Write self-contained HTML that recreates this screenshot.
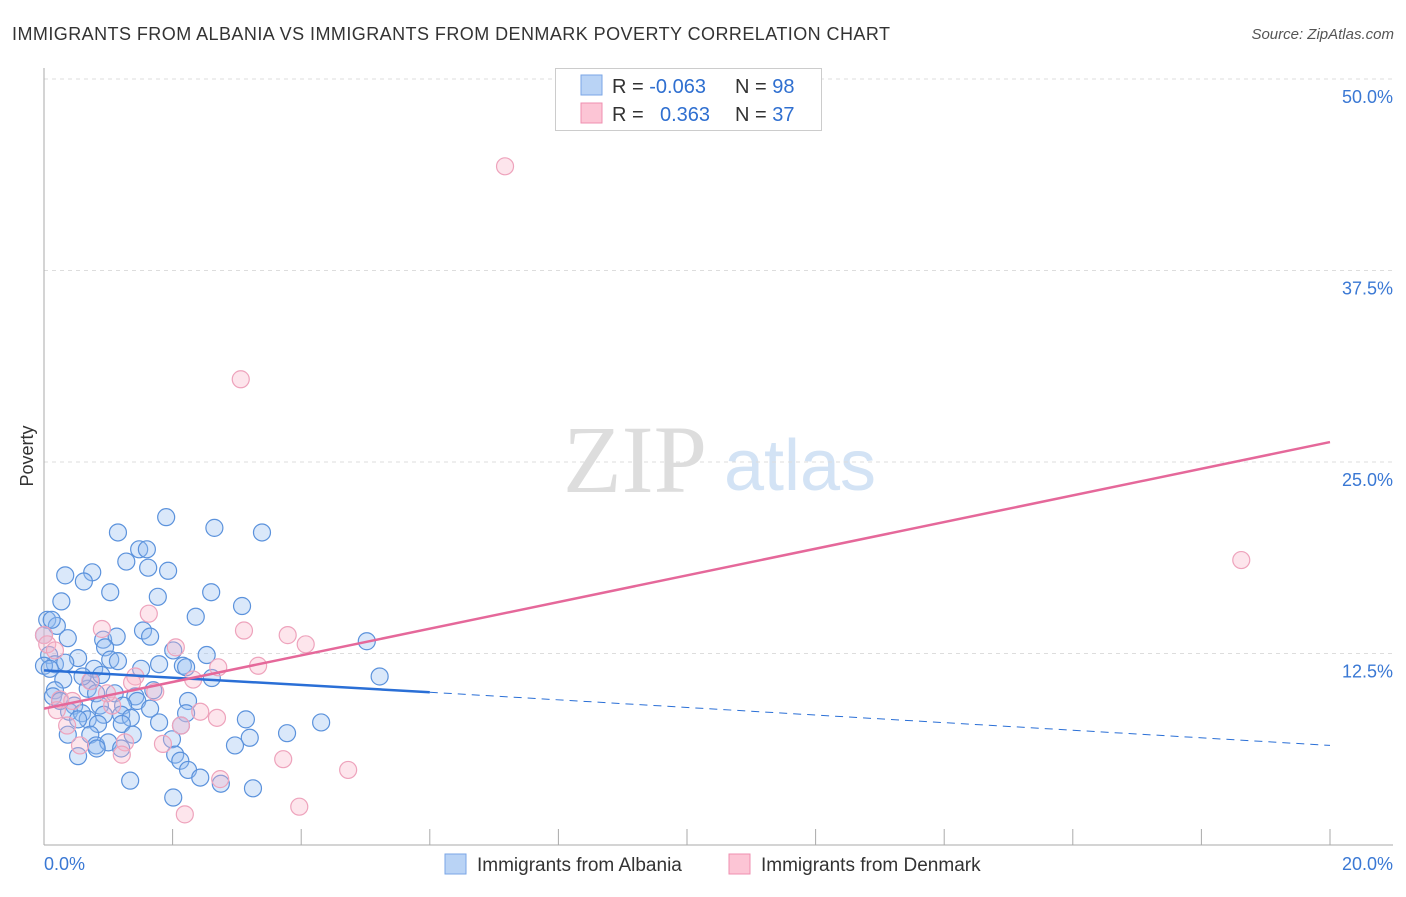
<!DOCTYPE html>
<html><head><meta charset="utf-8"><style>
body{margin:0;background:#fff;font-family:"Liberation Sans",sans-serif;}
svg text{font-family:"Liberation Sans",sans-serif;}
</style></head><body>
<svg id="chart" width="1406" height="892" xmlns="http://www.w3.org/2000/svg">
<text x="12" y="40" font-size="18" fill="#333" textLength="878" lengthAdjust="spacing">IMMIGRANTS FROM ALBANIA VS IMMIGRANTS FROM DENMARK POVERTY CORRELATION CHART</text>
<text x="1394" y="39" font-size="15" fill="#555" text-anchor="end" font-style="italic">Source: ZipAtlas.com</text>
<text x="33" y="456" font-size="18" fill="#333" text-anchor="middle" transform="rotate(-90 33 456)">Poverty</text>
<g>
<text x="635" y="492" font-size="96" fill="#ddd" text-anchor="middle" style="font-family:'Liberation Serif',serif">ZIP</text>
<text x="800" y="490" font-size="72" fill="#d3e3f5" text-anchor="middle">atlas</text>
</g>
<g id="grid"></g>
<g id="axes"></g>
<g id="pts"></g>
<g id="lines"></g>
<g>
<rect x="555.5" y="68.5" width="266" height="62" fill="#fff" stroke="#ccc"/>
<rect x="581" y="75" width="21" height="20" fill="#b9d3f5" stroke="#7aa6e6"/>
<rect x="581" y="103" width="21" height="20" fill="#fcc5d5" stroke="#ef8fb0"/>
<text x="612" y="93" font-size="20" fill="#333">R = <tspan fill="#2f6fd0">-0.063</tspan></text>
<text x="735" y="93" font-size="20" fill="#333">N = <tspan fill="#2f6fd0">98</tspan></text>
<text x="612" y="121" font-size="20" fill="#333">R = <tspan fill="#2f6fd0" x="660">0.363</tspan></text>
<text x="735" y="121" font-size="20" fill="#333">N = <tspan fill="#2f6fd0">37</tspan></text>
</g>
<g>
<rect x="445" y="854" width="21" height="20" fill="#b9d3f5" stroke="#7aa6e6"/>
<text x="477" y="871" font-size="19" fill="#333">Immigrants from Albania</text>
<rect x="729" y="854" width="21" height="20" fill="#fcc5d5" stroke="#ef8fb0"/>
<text x="761" y="871" font-size="19" fill="#333">Immigrants from Denmark</text>
</g>
</svg>
<script>
const yTicks=[12.5,25,37.5,50];
const yTickLabels=["12.5%","25.0%","37.5%","50.0%"];
const xTicks=[0,2,4,6,8,10,12,14,16,18,20];
const albaniaX=[1.9,1.15,2.65,3.39,1.48,1.6,1.28,1.62,0.33,0.75,0.62,1.93,1.03,2.6,1.77,0.27,3.08,2.36,0.05,0.2,1.54,1.65,0.37,0.92,1.13,5.02,0.95,2.01,2.53,0.08,0.53,1.03,0.17,0.33,1.15,1.79,2.16,1.51,0.78,2.21,2.61,5.22,0.3,0.73,0.89,0.17,0.68,0.81,1.42,1.1,1.7,2.24,0.14,0.47,0.87,1.45,1.65,1.23,0.39,0.59,0.68,0.93,1.2,1.35,2.21,3.14,4.31,1.79,0.53,0.84,1.21,0.37,0.72,1.38,2.13,1.99,3.2,3.78,2.97,0.81,1.0,1.2,2.04,0.53,2.12,2.24,2.43,2.75,1.34,3.25,2.01,0.0,0.0,0.09,0.25,0.82,0.12,0.6];
const albaniaY=[21.4,20.4,20.7,20.4,19.3,19.3,18.5,18.1,17.6,17.8,17.2,17.9,16.5,16.5,16.2,15.9,15.6,14.9,14.7,14.3,14.0,13.6,13.5,13.4,13.6,13.3,12.9,12.7,12.4,12.4,12.2,12.1,11.8,11.9,12.0,11.8,11.7,11.5,11.5,11.6,10.9,11.0,10.8,10.7,11.1,10.1,10.2,9.9,9.7,9.9,10.1,9.4,9.7,9.1,9.1,9.4,8.9,9.1,8.7,8.6,8.2,8.5,8.5,8.3,8.6,8.2,8.0,8.0,8.2,7.9,7.9,7.2,7.2,7.2,7.8,6.9,7.0,7.3,6.5,6.5,6.7,6.3,5.9,5.8,5.5,4.9,4.4,4.0,4.2,3.7,3.1,13.7,11.7,11.5,9.4,6.3,14.7,11.0];
const denmarkX=[7.17,3.06,18.62,1.63,0.9,3.11,3.79,4.07,2.05,3.33,0.0,0.05,0.17,1.42,1.37,1.73,0.72,2.32,2.71,1.06,2.43,2.69,2.13,0.36,0.25,0.98,0.44,0.2,1.26,0.56,1.85,1.21,3.72,4.73,2.74,3.97,2.19];
const denmarkY=[44.3,30.4,18.6,15.1,14.1,14.0,13.7,13.1,12.9,11.7,13.7,13.1,12.7,11.0,10.6,10.0,10.7,10.8,11.6,9.1,8.7,8.3,7.8,7.8,9.5,9.9,9.4,8.8,6.7,6.5,6.6,5.9,5.6,4.9,4.3,2.5,2.0];
const albaniaTrend=[11.4,9.97,6.5];
const denmarkTrend=[8.9,26.3];
const NS="http://www.w3.org/2000/svg";
const X0=44,X1=1330,Y0=845,Y50=79;
function sx(v){return X0+(v/20)*(X1-X0);}
function sy(v){return Y0-(v/50)*(Y0-Y50);}
function mk(tag,attrs,parent){const e=document.createElementNS(NS,tag);for(const k in attrs)e.setAttribute(k,attrs[k]);parent.appendChild(e);return e;}
const grid=document.getElementById('grid'),axes=document.getElementById('axes'),pts=document.getElementById('pts'),lines=document.getElementById('lines');
yTicks.forEach((t,i)=>{
 const l=mk('line',{x1:X0,x2:1393,y1:sy(t),y2:sy(t),stroke:'#ddd','stroke-dasharray':'4,4'},grid);
 
 
 const tx=mk('text',{x:1393,y:sy(t)+24,'font-size':18,fill:'#3a78d4','text-anchor':'end'},axes);
 tx.textContent=yTickLabels[i];
 
 
});
const ax=mk('line',{x1:X0,x2:1393,y1:Y0,y2:Y0,stroke:'#aaa'},axes);


const ay=mk('line',{x1:X0,x2:X0,y1:68,y2:Y0,stroke:'#aaa'},axes);


xTicks.forEach(t=>{const l=mk('line',{x1:sx(t),x2:sx(t),y1:829,y2:Y0,stroke:'#aaa'},axes);
 
 });
const xl0=mk('text',{x:44,y:870,'font-size':18,fill:'#3a78d4'},axes);xl0.textContent='0.0%';


const xl1=mk('text',{x:1393,y:870,'font-size':18,fill:'#3a78d4','text-anchor':'end'},axes);xl1.textContent='20.0%';


albaniaX.forEach((v,i)=>{const c=mk('circle',{cx:sx(v),cy:sy(albaniaY[i]),r:8.5,fill:'rgba(150,190,240,0.35)',stroke:'#5b92dc','stroke-width':1.2},pts);
 
 });
denmarkX.forEach((v,i)=>{const c=mk('circle',{cx:sx(v),cy:sy(denmarkY[i]),r:8.5,fill:'rgba(250,180,200,0.35)',stroke:'#eea3bc','stroke-width':1.2},pts);
 
 });
const bl=mk('line',{x1:sx(0),y1:sy(albaniaTrend[0]),x2:sx(6),y2:sy(albaniaTrend[1]),stroke:'#2a6fd6','stroke-width':2.5},lines);


const bd=mk('line',{x1:sx(6),y1:sy(albaniaTrend[1]),x2:sx(20),y2:sy(albaniaTrend[2]),stroke:'#2a6fd6','stroke-width':1,'stroke-dasharray':'8,6'},lines);


const pl=mk('line',{x1:sx(0),y1:sy(denmarkTrend[0]),x2:sx(20),y2:sy(denmarkTrend[1]),stroke:'#e5689a','stroke-width':2.5},lines);


</script>
</body></html>
